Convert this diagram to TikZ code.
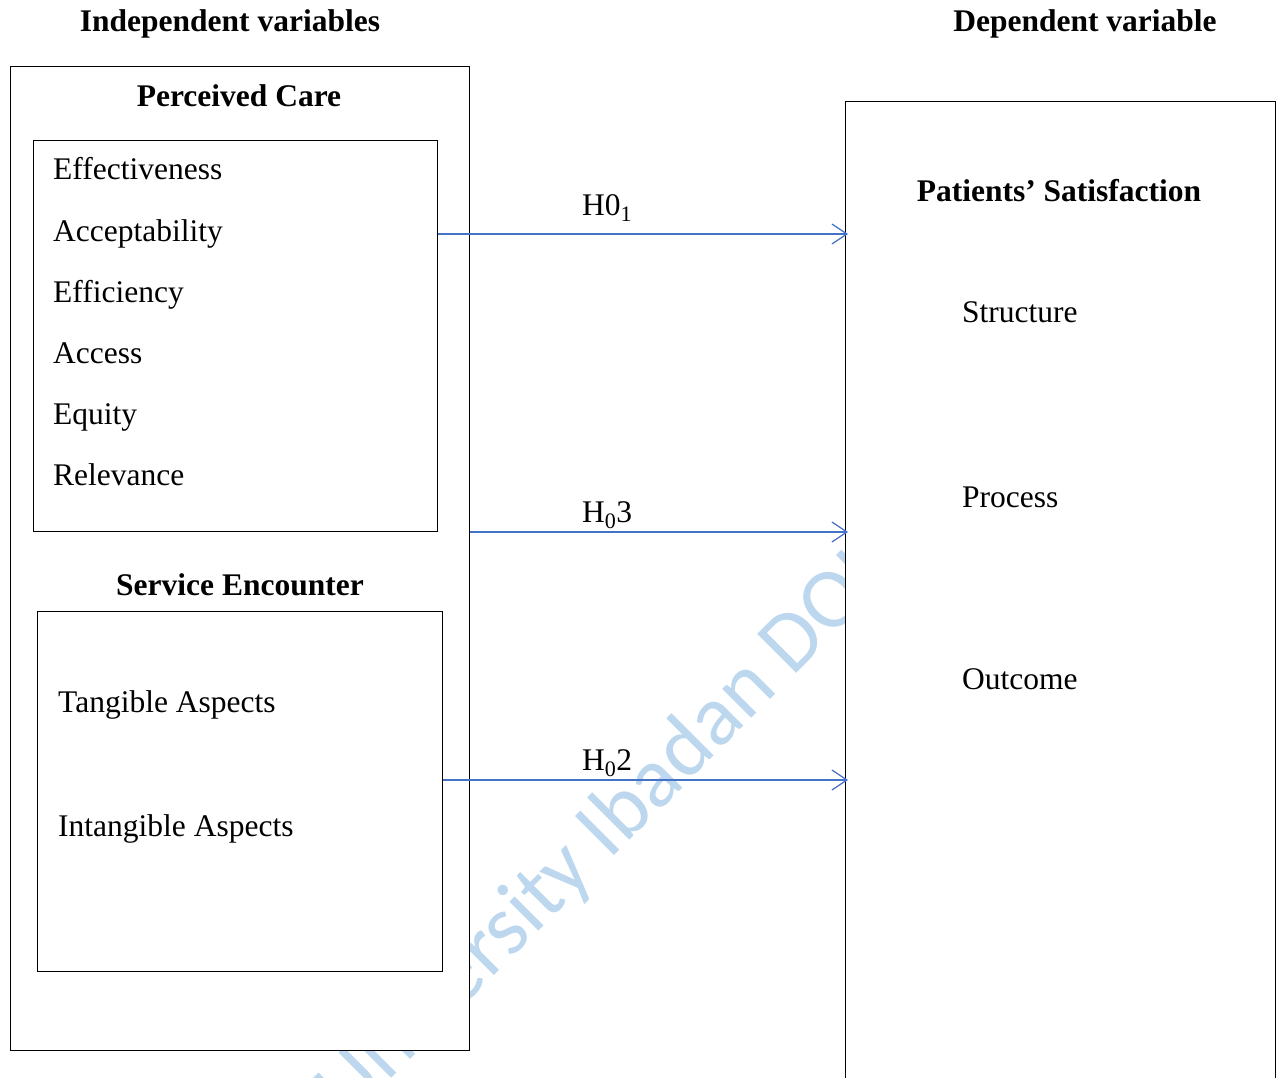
\documentclass[tikz,border=0pt]{standalone}
\usepackage{fontspec}
\setmainfont{Liberation Serif}
\newfontfamily\wmfont{Carlito}
\usetikzlibrary{arrows.meta, positioning}
\definecolor{hypblue}{RGB}{68,114,196}
\definecolor{wmblue}{RGB}{189,215,238}
\tikzset{
  frame/.style={draw, line width=1.2pt, fill=white, anchor=north west, inner sep=0pt},
  txt/.style={inner sep=0pt, font=\fontsize{31.5}{38}\selectfont},
  head/.style={txt, font=\fontsize{31.5}{38}\selectfont\bfseries, anchor=base},
  item/.style={txt, anchor=base west},
  hyp/.style={draw=hypblue, line width=1.2pt, -{Straight Barb[length=15pt,width=20pt]}, shorten >=-3pt},
}

\begin{document}
\begin{tikzpicture}[x=1pt, y=-1pt]
\useasboundingbox (0,0) rectangle (1277,1078);
\clip (0,0) rectangle (1277,1078);
% watermark behind the boxes
\node[text=wmblue, rotate=45, anchor=base west, inner sep=0pt, font=\wmfont\fontsize{86}{92}\selectfont] (wm) at (348,1122) {University Ibadan DOI};

\node[head] (indep) at (230,32) {Independent variables};
\node[head] (dep) at (1085,32) {Dependent variable};

% independent side
\node[frame, minimum width=459pt, minimum height=984pt] (ivbox) at (10,66) {};
\node[head] (pctitle) at (239,107) {Perceived Care};
\node[frame, minimum width=404pt, minimum height=391pt] (pcbox) at (33,140) {};
\node[item] (eff) at (53,180) {Effectiveness};
\node[item] (acc) at (53,241) {Acceptability};
\node[item] (effi) at (53,302) {Efficiency};
\node[item] (access) at (53,363) {Access};
\node[item] (equ) at (53,424) {Equity};
\node[item] (rel) at (53,485) {Relevance};
\node[head] (setitle) at (240,595) {Service Encounter};
\node[frame, minimum width=405pt, minimum height=360pt] (sebox) at (37,611) {};
\node[item] (tang) at (58,712) {Tangible Aspects};
\node[item] (intang) at (58,836) {Intangible Aspects};

% dependent side
\node[frame, minimum width=430pt, minimum height=1010pt] (dvbox) at (845,101) {};
\node[head] (pstitle) at (1059,202) {Patients’ Satisfaction};
\node[item] (struct) at (962,322) {Structure};
\node[item] (proc) at (962,507) {Process};
\node[item] (outc) at (962,689) {Outcome};

% hypotheses
\coordinate (y1) at (0,234);
\coordinate (y3) at (0,532);
\coordinate (y2) at (0,780);
\draw[hyp] (pcbox.east |- y1) -- (dvbox.west |- y1);
\draw[hyp] (ivbox.east |- y3) -- (dvbox.west |- y3);
\draw[hyp] (sebox.east |- y2) -- (dvbox.west |- y2);
\node[item] (h1) at (582,216) {H0\textsubscript{1}};
\node[item] (h3) at (582,522) {H\textsubscript{0}3};
\node[item] (h2) at (582,770) {H\textsubscript{0}2};
\end{tikzpicture}
\end{document}
